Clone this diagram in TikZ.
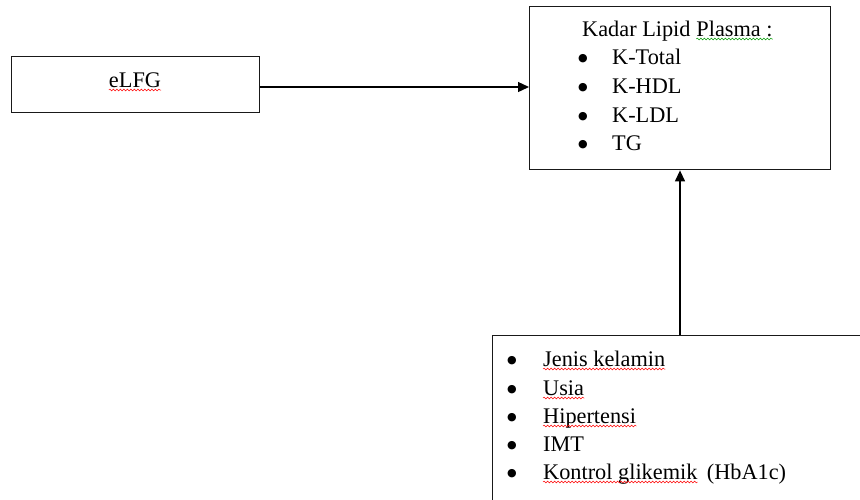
\documentclass[tikz,border=0pt]{standalone}
\usepackage{fontspec}
\setmainfont{Liberation Serif}
\newfontfamily\dejavu{DejaVu Sans}
\usetikzlibrary{arrows.meta,decorations.pathmorphing}
\newcommand\bul{{\fontsize{11}{11}\dejavu\raisebox{3pt}{●}}}
\begin{document}
\begin{tikzpicture}[x=1pt,y=-1pt,
  boxst/.style={draw=black!90, line width=1.4pt, inner sep=0pt},
  txt/.style={anchor=base west, inner sep=0pt, font=\fontsize{22.3}{26}\selectfont},
  bl/.style={anchor=base, inner sep=0pt},
  arr/.style={draw=black, line width=1.3pt, -{Triangle[length=11pt,width=10pt]}},
  redsq/.style={draw=red, line width=0.5pt, decorate, decoration={snake, amplitude=0.9pt, segment length=3.5pt}},
  greensq/.style={draw=green!60!black, line width=0.5pt, decorate, decoration={snake, amplitude=0.9pt, segment length=3.5pt}}]
\useasboundingbox (0,0) rectangle (860,499);
% eLFG box
\node[boxst, minimum width=248pt, minimum height=56pt, anchor=north west] (elfg) at (11,56) {};
\node[txt, anchor=base] (elfgt) at (135,87) {eLFG};
% Kadar lipid box
\node[boxst, minimum width=301pt, minimum height=163pt, anchor=north west] (kadar) at (529,6) {};
\node[txt] (kt) at (582,36) {Kadar Lipid};
\node[txt, xshift=5.5pt] (kp) at (kt.base east) {Plasma :};
\node[bl] (kb1) at (583,64) {\bul};
\node[txt] (k1) at (612,64) {K-Total};
\node[bl] (kb2) at (583,93) {\bul};
\node[txt] (k2) at (612,93) {K-HDL};
\node[bl] (kb3) at (583,122) {\bul};
\node[txt] (k3) at (612,122) {K-LDL};
\node[bl] (kb4) at (583,150) {\bul};
\node[txt] (k4) at (612,150) {TG};
% factor box
\node[boxst, minimum width=400pt, minimum height=200pt, anchor=north west] (fac) at (492,335) {};
\node[bl] (fb1) at (512,366) {\bul};
\node[txt] (f1) at (543,366) {Jenis kelamin};
\node[bl] (fb2) at (512,395) {\bul};
\node[txt] (f2) at (543,395) {Usia};
\node[bl] (fb3) at (512,423) {\bul};
\node[txt] (f3) at (543,423) {Hipertensi};
\node[bl] (fb4) at (512,451) {\bul};
\node[txt] (f4) at (543,451) {IMT};
\node[bl] (fb5) at (512,479) {\bul};
\node[txt] (f5) at (543,479) {Kontrol glikemik};
\node[txt, xshift=9pt] (f5b) at (f5.base east) {(HbA1c)};
% spell-check squiggles
\draw[redsq] ([yshift=-3pt]elfgt.base west) -- ([yshift=-3pt]elfgt.base east);
\draw[greensq] ([yshift=-3pt]kp.base west) -- ([yshift=-3pt]kp.base east);
\draw[redsq] ([yshift=-3pt]f1.base west) -- ([yshift=-3pt]f1.base east);
\draw[redsq] ([yshift=-3pt]f2.base west) -- ([yshift=-3pt]f2.base east);
\draw[redsq] ([yshift=-3pt]f3.base west) -- ([yshift=-3pt]f3.base east);
\draw[redsq] ([yshift=-3pt]f5.base west) -- ([yshift=-3pt]f5.base east);
% connectors
\coordinate (h) at (0,87);
\coordinate (v) at (680,0);
\draw[arr] (elfg.east |- h) -- (kadar.west |- h);
\draw[arr] (fac.north -| v) -- (kadar.south -| v);
\end{tikzpicture}
\end{document}
